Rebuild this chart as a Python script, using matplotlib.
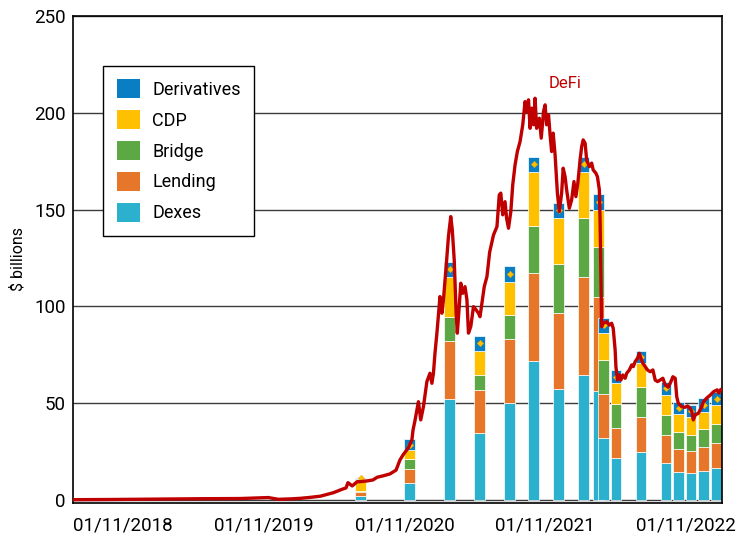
import pandas as pd
import matplotlib
matplotlib.use('Agg')
import matplotlib.pyplot as plt
import matplotlib.dates as mdates
from matplotlib.patches import Patch

plt.rcParams['font.family'] = ['Roboto', 'DejaVu Sans']

# stacked bars (USD billions) per snapshot date
bar_dates = ['2020-07-10', '2020-11-14', '2021-02-26', '2021-05-15', '2021-08-01',
             '2021-10-02', '2021-12-06', '2022-02-09', '2022-03-20', '2022-04-02',
             '2022-05-04', '2022-07-08', '2022-09-11', '2022-10-14', '2022-11-15',
             '2022-12-18', '2023-01-21']
dexes = [2.0, 8.9, 52.3, 34.4, 49.9, 72.0, 57.5, 64.6, 56.5, 32.2,
         21.5, 25.0, 19.3, 14.6, 13.8, 14.8, 16.4]
lending = [2.3, 6.9, 30.0, 22.4, 33.1, 45.1, 39.3, 50.4, 48.2, 22.6,
           15.9, 18.0, 14.1, 11.7, 11.5, 12.7, 13.2]
bridge = [0.2, 5.2, 12.4, 7.8, 12.7, 24.4, 25.1, 30.5, 25.8, 17.5,
          12.3, 15.2, 10.5, 9.0, 8.3, 9.0, 9.7]
cdp = [6.5, 4.8, 20.7, 12.5, 16.9, 27.8, 23.6, 23.8, 19.3, 14.1,
       10.6, 12.4, 10.3, 9.0, 9.1, 9.1, 9.8]
derivatives = [0.4, 5.7, 7.7, 7.6, 8.3, 8.0, 8.1, 8.0, 8.3, 7.8,
               7.0, 6.5, 6.9, 6.5, 6.4, 6.9, 6.7]

# DeFi total value locked
defi_dates = [
    '2018-06-23', '2018-09-28', '2019-01-10', '2019-05-20', '2019-09-01', '2019-10-28',
    '2019-11-13', '2019-12-09',
    '2020-01-09', '2020-02-04', '2020-03-01', '2020-03-27', '2020-04-30', '2020-05-23',
    '2020-06-02', '2020-06-07', '2020-06-18', '2020-07-01', '2020-07-08', '2020-07-27',
    '2020-08-11', '2020-08-22', '2020-09-06', '2020-09-24', '2020-10-10', '2020-10-15',
    '2020-10-20', '2020-10-28', '2020-11-10', '2020-11-20', '2020-11-23', '2020-11-28',
    '2020-12-07', '2020-12-13', '2020-12-20', '2020-12-29',
    '2021-01-06', '2021-01-11', '2021-01-15', '2021-01-19', '2021-01-24',
    '2021-02-01', '2021-02-06', '2021-02-10', '2021-02-17', '2021-02-23',
    '2021-03-01', '2021-03-05', '2021-03-10', '2021-03-15', '2021-03-18', '2021-03-23', '2021-03-27',
    '2021-04-01', '2021-04-07', '2021-04-12', '2021-04-16', '2021-04-22', '2021-04-29',
    '2021-05-06', '2021-05-12', '2021-05-16', '2021-05-21', '2021-05-27',
    '2021-06-03', '2021-06-10', '2021-06-16', '2021-06-20', '2021-06-29',
    '2021-07-05', '2021-07-09', '2021-07-14', '2021-07-20', '2021-07-24', '2021-07-29',
    '2021-08-04', '2021-08-09', '2021-08-15', '2021-08-21', '2021-08-28',
    '2021-09-04', '2021-09-10', '2021-09-14', '2021-09-19', '2021-09-23', '2021-09-27',
    '2021-10-02', '2021-10-06', '2021-10-10', '2021-10-17', '2021-10-22', '2021-10-28',
    '2021-11-01', '2021-11-05', '2021-11-10', '2021-11-14', '2021-11-18', '2021-11-22',
    '2021-11-27', '2021-11-30',
    '2021-12-03', '2021-12-08', '2021-12-14', '2021-12-18', '2021-12-23', '2021-12-27',
    '2022-01-03', '2022-01-09', '2022-01-15', '2022-01-20', '2022-01-25', '2022-01-31',
    '2022-02-04', '2022-02-08', '2022-02-13', '2022-02-17', '2022-02-24',
    '2022-03-02', '2022-03-06', '2022-03-13', '2022-03-17', '2022-03-22', '2022-03-24',
    '2022-03-26', '2022-03-28',
    '2022-04-01', '2022-04-10', '2022-04-17', '2022-04-23', '2022-04-27',
    '2022-05-02', '2022-05-04', '2022-05-08', '2022-05-13', '2022-05-17', '2022-05-22', '2022-05-28',
    '2022-06-01', '2022-06-08', '2022-06-14', '2022-06-18', '2022-06-23', '2022-06-29',
    '2022-07-04', '2022-07-08', '2022-07-13', '2022-07-19', '2022-07-25',
    '2022-08-01', '2022-08-08', '2022-08-14', '2022-08-20', '2022-08-27',
    '2022-09-03', '2022-09-09', '2022-09-17', '2022-09-24', '2022-09-29',
    '2022-10-05', '2022-10-09', '2022-10-13', '2022-10-22', '2022-10-31',
    '2022-11-06', '2022-11-13', '2022-11-17', '2022-11-21', '2022-11-26',
    '2022-12-04', '2022-12-13', '2022-12-17', '2022-12-26',
    '2023-01-04', '2023-01-13', '2023-01-22', '2023-01-26', '2023-01-31']
defi_values = [
    0.2, 0.3, 0.5, 0.7, 0.8, 1.2,
    1.3, 0.4,
    0.6, 0.9, 1.4, 2.0, 3.8, 5.6,
    6.3, 9.0, 7.3, 9.5, 9.5, 9.9,
    10.4, 11.8, 12.5, 13.5, 15.5, 18.1,
    20.7, 23.3, 26.7, 31.0, 36.2, 41.0,
    50.8, 41.4, 48.2, 61.2,
    65.5, 60.3, 65.5, 75.8, 86.2,
    105.1, 96.5, 103.4, 120.6, 136.1,
    146.4, 139.5, 124.0, 96.5, 86.2, 99.9, 112.0,
    106.8, 110.2, 103.4, 86.2, 89.6, 99.9,
    98.2, 96.5, 94.7, 101.7, 110.2,
    115.4, 128.0, 133.5, 136.9, 141.2,
    157.6, 158.5, 147.3, 154.1, 145.6, 140.4,
    149.0, 162.8, 173.1, 180.0, 185.1,
    193.8, 205.8, 200.6, 206.7, 192.0, 202.4,
    193.8, 207.5, 192.0, 197.2, 186.9, 200.6,
    204.1, 193.8, 198.9, 188.6, 180.0, 189.5,
    178.3, 168.8,
    158.5, 149.0, 158.5, 171.4, 167.0, 160.2,
    150.7, 155.0, 164.5, 156.7, 163.6, 175.7,
    182.5, 186.0, 184.3, 175.7, 172.2,
    174.0, 170.5, 168.8, 167.0, 160.2, 143.0,
    117.1, 89.6,
    91.3, 92.1, 90.4, 91.3, 88.7,
    77.5, 68.9, 62.0, 64.6, 62.0, 64.6, 62.9,
    65.5, 67.2, 69.8, 68.9, 71.5, 73.2,
    75.8, 73.2, 70.7, 68.9, 67.2,
    66.3, 67.2, 62.0, 61.2, 62.0,
    62.9, 59.5, 58.3, 61.2, 63.7,
    62.9, 53.4, 50.0, 48.2, 47.9,
    48.6, 47.4, 45.7, 41.4, 44.0,
    44.8, 48.2, 50.7, 52.7,
    54.2, 56.0, 56.9, 55.3, 56.9]

series = [('Dexes', dexes, '#2BB0CD'),
          ('Lending', lending, '#E67629'),
          ('Bridge', bridge, '#5CA845'),
          ('CDP', cdp, '#FFC000'),
          ('Derivatives', derivatives, '#0A7EC3')]

bx = pd.to_datetime(bar_dates)
lx = pd.to_datetime(defi_dates)

fig = plt.figure(figsize=(7.36, 5.36), dpi=100)
ax = fig.add_axes([0.0988, 0.0616, 0.8824, 0.9086])

bottom = [0.0] * len(bar_dates)
for name, vals, col in series:
    ax.bar(bx, vals, width=28, bottom=bottom, color=col, edgecolor='white',
           linewidth=0.5, zorder=2)
    bottom = [b + v for b, v in zip(bottom, vals)]

# small yellow diamonds in the derivatives cap
mid = [b - d / 2 for b, d in zip(bottom, derivatives)]
ax.plot(bx, mid, linestyle='none', marker='D', markersize=3.2, color='#FFC000',
        markeredgecolor='#F0A800', markeredgewidth=0.4, zorder=3)

ax.plot(lx, defi_values, color='#C00000', linewidth=2.4, zorder=4)
ax.text(pd.Timestamp('2021-12-24'), 215, 'DeFi', color='#C00000', fontsize=12,
        ha='center', va='center', zorder=5)

ax.set_xlim(pd.Timestamp('2018-06-23'), pd.Timestamp('2023-02-04'))
ax.set_ylim(-1.5, 250)
ax.set_yticks([0, 50, 100, 150, 200, 250])
ax.xaxis.set_major_locator(mdates.MonthLocator(bymonth=11, bymonthday=1))
ax.xaxis.set_major_formatter(mdates.DateFormatter('%d/%m/%Y'))
ax.tick_params(axis='x', length=0, pad=10, labelsize=13.5)
ax.tick_params(axis='y', length=0, pad=5, labelsize=13.5)

ax.yaxis.grid(True, color='#3c3c3c', linewidth=1.0)
ax.set_axisbelow(True)
for s in ax.spines.values():
    s.set_color('black')
    s.set_linewidth(1.2)

ax.set_ylabel('$ billions', fontsize=11.5, labelpad=6)

handles = [Patch(facecolor=col, edgecolor='none', label=name)
           for name, vals, col in reversed(series)]
leg = ax.legend(handles=handles, loc='upper left', bbox_to_anchor=(0.0471, 0.898),
                borderaxespad=0, fontsize=13, frameon=True, fancybox=False,
                edgecolor='black', framealpha=1, handlelength=1.26, handleheight=1.26,
                labelspacing=0.62, handletextpad=0.7, borderpad=0.75)
leg.get_frame().set_linewidth(1.0)

fig.savefig('out.png', dpi=100)
